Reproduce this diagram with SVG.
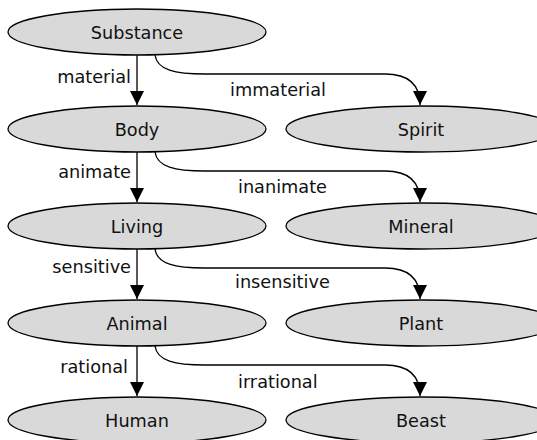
<svg xmlns="http://www.w3.org/2000/svg" width="537" height="440" viewBox="0 0 537 440">
<style>
.node ellipse{fill:#d9d9d9;stroke:#000;stroke-width:1.3}
text{font-family:"DejaVu Sans","Liberation Sans",sans-serif;font-size:17.7px;fill:#111}
.node text{text-anchor:middle}
.lbl-l{text-anchor:end}
.edges path{fill:none;stroke:#000;stroke-width:1.3;marker-end:url(#arr)}
</style>
<defs>
<marker id="arr" markerUnits="userSpaceOnUse" markerWidth="16" markerHeight="16" refX="14" refY="7" orient="auto">
<path d="M0,0 L14,7 L0,14 z" fill="#000"/>
</marker>
</defs>
<g class="edges">
<path d="M137,55 L137,105"/>
<path d="M155,55 C157,70 175,74 205,74 L385,74 C405,74 420,82 420,105"/>
<path d="M137,152 L137,202"/>
<path d="M155,152 C157,167 175,171 205,171 L385,171 C405,171 420,179 420,202"/>
<path d="M137,249 L137,299"/>
<path d="M155,249 C157,264 175,268 205,268 L385,268 C405,268 420,276 420,299"/>
<path d="M137,346 L137,396"/>
<path d="M155,346 C157,361 175,365 205,365 L385,365 C405,365 420,373 420,396"/>
<text class="lbl-l" x="131" y="83">material</text>
<text x="230" y="96">immaterial</text>
<text class="lbl-l" x="131" y="178">animate</text>
<text x="238" y="193">inanimate</text>
<text class="lbl-l" x="131" y="273">sensitive</text>
<text x="235" y="288">insensitive</text>
<text class="lbl-l" x="128" y="373">rational</text>
<text x="238" y="388">irrational</text>
</g>
<g class="node" id="substance"><ellipse cx="137" cy="32" rx="129" ry="23"/><text x="137" y="39">Substance</text></g>
<g class="node" id="body"><ellipse cx="137" cy="129" rx="129" ry="23"/><text x="137" y="136">Body</text></g>
<g class="node" id="spirit"><ellipse cx="421" cy="129" rx="135" ry="23"/><text x="421" y="136">Spirit</text></g>
<g class="node" id="living"><ellipse cx="137" cy="226" rx="129" ry="23"/><text x="137" y="233">Living</text></g>
<g class="node" id="mineral"><ellipse cx="421" cy="226" rx="135" ry="23"/><text x="421" y="233">Mineral</text></g>
<g class="node" id="animal"><ellipse cx="137" cy="323" rx="129" ry="23"/><text x="137" y="330">Animal</text></g>
<g class="node" id="plant"><ellipse cx="421" cy="323" rx="135" ry="23"/><text x="421" y="330">Plant</text></g>
<g class="node" id="human"><ellipse cx="137" cy="420" rx="129" ry="23"/><text x="137" y="427">Human</text></g>
<g class="node" id="beast"><ellipse cx="421" cy="420" rx="135" ry="23"/><text x="421" y="427">Beast</text></g>
</svg>
